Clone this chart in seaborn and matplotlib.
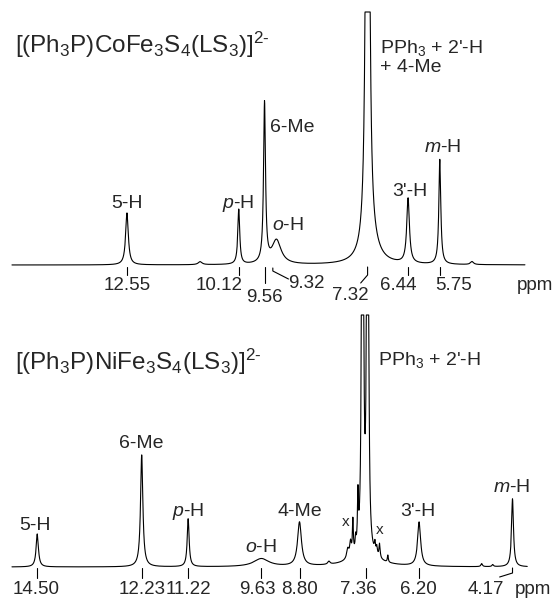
import numpy as np
import pandas as pd
import seaborn as sns
import matplotlib.pyplot as plt

# peaks: position (ppm), height (px above baseline), half width (ppm)
co_ppm = [12.55, 10.96, 10.12, 9.56, 9.30, 7.32, 7.25, 6.44, 5.75, 5.05]
co_height = [52, 3, 55, 160, 24, 1500, 15, 65, 105, 3]
co_width = [0.035, 0.05, 0.025, 0.025, 0.12, 0.025, 0.2, 0.035, 0.025, 0.04]

# peaks
ni_ppm = [14.50, 12.23, 11.22, 9.63, 8.80, 8.16, 7.75, 7.69, 7.64, 7.58, 7.53,
          7.43, 7.32, 7.40, 7.16, 7.12, 7.06, 6.88, 6.20, 4.84, 4.60, 4.17]
ni_height = [33, 112, 48, 8, 44, 3, 10, 14, 34, 12, 50,
             3000, 3000, 8, 10, 8, 14, 7, 44, 3, 2, 68]
ni_width = [0.03, 0.03, 0.025, 0.2, 0.05, 0.03, 0.03, 0.02, 0.012, 0.012, 0.012,
            0.008, 0.008, 0.4, 0.015, 0.015, 0.015, 0.012, 0.04, 0.02, 0.02, 0.025]

co_ticks = ["12.55", "10.12", "9.56", "9.32", "7.32", "6.44", "5.75"]
ni_ticks = ["14.50", "12.23", "11.22", "9.63", "8.80", "7.36", "6.20", "4.17"]
# where each Ni tick label is centred (ppm)
ni_label_at = [14.53, 12.22, 11.22, 9.72, 8.81, 7.53, 6.22, 4.75]


def spectrum(ppm, height, width, lo, hi, cap):
    x = np.linspace(hi, lo, 5000)
    y = np.zeros_like(x)
    for p, h, w in zip(ppm, height, width):
        y += h / (1 + ((x - p) / w) ** 2)
    return pd.DataFrame({"ppm": x, "y": np.minimum(y, cap)})


co = spectrum(co_ppm, co_height, co_width, 3.90, 15.05, 253)
ni = spectrum(ni_ppm, ni_height, ni_width, 3.85, 15.05, 252)

sns.set_theme(style="white")
plt.rcParams['font.family'] = ['Liberation Sans', 'DejaVu Sans']
plt.rcParams['mathtext.fontset'] = 'custom'
plt.rcParams['mathtext.rm'] = 'Liberation Sans'
plt.rcParams['mathtext.it'] = 'Liberation Sans:italic'

fig = plt.figure(figsize=(5.53, 5.98), dpi=100)
ax1 = fig.add_axes([0, 298 / 598, 1, 300 / 598])
ax2 = fig.add_axes([0, 0, 1, 298 / 598])

sns.lineplot(data=co, x="ppm", y="y", ax=ax1, color="black", lw=0.8, estimator=None)
sns.lineplot(data=ni, x="ppm", y="y", ax=ax2, color="black", lw=0.8, estimator=None)

ax1.set_xlim(15.31, 3.29)
ax2.set_xlim(15.31, 3.29)
ax1.set_ylim(-35, 265)
ax2.set_ylim(-31, 267)
for ax in (ax1, ax2):
    ax.axis('off')

lab = dict(fontsize=14, ha='center', va='center', clip_on=False)
num = dict(fontsize=13.5, ha='center', va='center', clip_on=False)
k = dict(color='black', lw=0.8)

# --- Co panel ---
ax1.text(14.98, 220, r"[(Ph$_3$P)CoFe$_3$S$_4$(LS$_3$)]$^{2\text{-}}$", fontsize=17.5, va='center', ha='left')
ax1.text(12.55, 61, "5-H", **lab)
ax1.text(10.14, 61, "$p$-H", **lab)
ax1.text(9.44, 137, "6-Me", fontsize=14, ha='left', va='center')
ax1.text(9.05, 40, "$o$-H", **lab)
ax1.text(7.05, 217, "PPh$_3$ + 2'-H", fontsize=14, ha='left', va='center')
ax1.text(7.05, 198, "+ 4-Me", fontsize=14, ha='left', va='center')
ax1.text(6.40, 74, "3'-H", **lab)
ax1.text(5.70, 118, "$m$-H", **lab)

v = dict(zip(co_ticks, [float(t) for t in co_ticks]))
for t in ["12.55", "10.12", "6.44", "5.75"]:
    ax1.plot([v[t], v[t]], [-2, -10], **k)
ax1.text(v["12.55"], -20, "12.55", **num)
ax1.text(v["10.12"] - 0.08, -20, "10.12", fontsize=13.5, ha='right', va='center')
ax1.text(v["6.44"] + 0.22, -20, "6.44", **num)
ax1.text(v["5.75"] + 0.09, -20, "5.75", fontsize=13.5, ha='left', va='center')
ax1.plot([v["9.56"], v["9.56"]], [-2, -18], **k)
ax1.text(v["9.56"], -32, "9.56", **num)
ax1.plot([v["9.32"] + 0.06, v["9.32"] + 0.06, v["9.32"] - 0.28], [-3, -6, -14], **k)
ax1.text(v["9.32"] - 0.27, -18, "9.32", fontsize=13.5, ha='left', va='center')
ax1.plot([v["7.32"], v["7.32"], v["7.32"] + 0.15], [-2, -10, -18], **k)
ax1.text(v["7.32"] + 0.38, -31, "7.32", **num)
ax1.text(3.68, -20, "ppm", **num)

# --- Ni panel ---
ax2.text(14.98, 205, r"[(Ph$_3$P)NiFe$_3$S$_4$(LS$_3$)]$^{2\text{-}}$", fontsize=17.5, va='center', ha='left')
ax2.text(14.55, 42, "5-H", **lab)
ax2.text(12.25, 124, "6-Me", **lab)
ax2.text(11.22, 55, "$p$-H", **lab)
ax2.text(9.64, 20, "$o$-H", **lab)
ax2.text(8.79, 55, "4-Me", **lab)
ax2.text(7.79, 45, "x", fontsize=11, ha='center', va='center')
ax2.text(7.05, 37, "x", fontsize=11, ha='center', va='center')
ax2.text(7.09, 207, "PPh$_3$ + 2'-H", fontsize=14, ha='left', va='center')
ax2.text(6.22, 55, "3'-H", **lab)
ax2.text(4.18, 80, "$m$-H", **lab)

for t, c in zip(ni_ticks[:-1], ni_label_at[:-1]):
    p = float(t)
    ax2.plot([p, p], [-1, -11], **k)
    ax2.text(c, -23, t, **num)
p = float(ni_ticks[-1])
ax2.plot([p, p, p + 0.28], [-1, -6, -10], **k)
ax2.text(ni_label_at[-1], -23, ni_ticks[-1], **num)
ax2.text(3.33, -22, "ppm", fontsize=13.5, ha='right', va='center')

plt.savefig('out.png', dpi=100)
